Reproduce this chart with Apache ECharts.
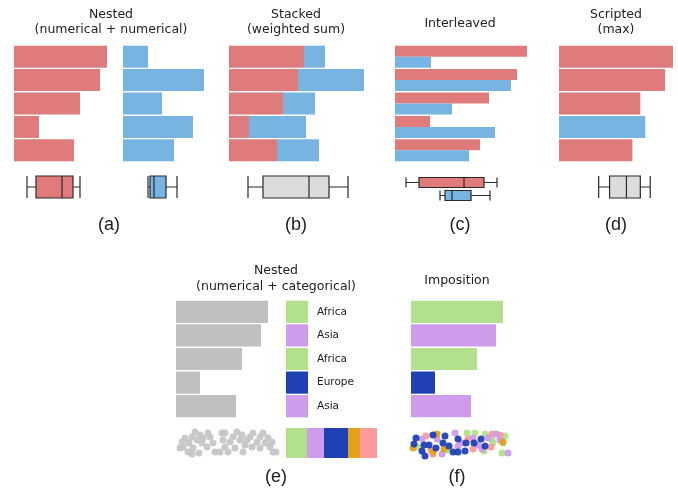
<!DOCTYPE html>
<html>
<head>
<meta charset="utf-8">
<script src="https://cdn.jsdelivr.net/npm/echarts@6/dist/echarts.min.js"></script>
<style>
  html, body { margin: 0; padding: 0; background: #fff; }
  #chart { width: 678px; height: 493px; }
</style>
</head>
<body>
<div id="chart"></div>
<script>
// data (lengths in arbitrary units)
const rows = ['r1', 'r2', 'r3', 'r4', 'r5'];
const nestedRed = [93, 86, 66, 25, 60];
const nestedBlue = [25, 81, 39, 70, 51];
const stackRed = [75, 69, 54, 20, 48];
const stackBlue = [21, 66, 32, 57, 42];
const interRed = [132, 122, 94, 35, 85];
const interBlue = [36, 116, 57, 100, 74];
const maxVals = [115, 107, 82, 87, 74];
const maxFrom = ['red', 'red', 'red', 'blue', 'red'];
const catVals = [92, 85, 66, 24, 60];
const rowRegion = ['Africa', 'Asia', 'Africa', 'Europe', 'Asia'];
const regionNames = ['Africa', 'Asia', 'Europe', 'Americas', 'Oceania'];
const regionShare = [21, 17, 24, 12, 17];

// boxplots: [min, Q1, median, Q3, max]
const boxNestedRed = [13, 22, 48, 59, 66];
const boxNestedBlue = [25, 27, 31, 43, 54];
const boxStacked = [19, 34, 80, 100, 119];
const boxInterRed = [11, 24, 69, 89, 102];
const boxInterBlue = [45, 50, 57, 76, 95];
const boxMax = [40, 51, 68, 82, 92];

// dot clouds [x, y]
const grayDots = [[6,14],[9,10],[7,19],[13,15],[16,9],[17,20],[21,12],[24,7],[26,15],[27,10],
  [31,19],[23,25],[16,26],[34,9],[37,15],[39,24],[46,5],[47,12],[49,19],[54,14],[57,9],[61,4],
  [59,20],[64,12],[66,7],[69,17],[67,24],[74,9],[76,19],[81,14],[84,9],[87,5],[89,15],[92,10],
  [94,19],[97,24],[100,24],[96,14],[77,5],[52,24],[44,24],[32,5],[4,20],[12,24],[19,4],[71,12],
  [49,5],[84,20]];
const dotsAfrica = [[7,19],[21,22],[36,22],[56,5],[64,5],[74,6],[81,12],[91,25],[94,8],[92,15],[82,15],[73,23]];
const dotsAsia = [[11,11],[26,11],[44,5],[51,15],[62,10],[67,17],[71,21],[77,10],[85,6],[89,12],[97,25],[31,26],[47,18]];
const dotsEurope = [[5,10],[22,7],[34,8],[47,11],[13,17],[18,17],[11,23],[14,28],[25,20],[32,15],[38,18],
  [42,24],[47,24],[55,15],[54,23],[63,15],[70,11],[74,18],[3,16]];
const dotsAmericas = [[2,20],[26,6],[33,21],[92,14],[22,24]];
const dotsOceania = [[15,8],[20,22],[22,26],[57,11],[81,6],[89,7],[80,19],[62,21]];

const RED = '#e07b7b';
const BLUE = '#77b4e1';
const GRAY = '#c0c0c0';
const regionColor = {
  Africa: '#b3e08c', Asia: '#cf9beb', Europe: '#2140b4', Americas: '#e3a11c', Oceania: '#fd9a9a'
};

const grids = [], xAxes = [], yAxes = [], series = [];

function addGrid(left, top, width, height, xMax, yAxis) {
  grids.push({left: left, top: top, width: width, height: height});
  const i = grids.length - 1;
  xAxes.push({type: 'value', gridIndex: i, min: 0, max: xMax, show: false});
  yAxes.push(Object.assign({gridIndex: i, show: false}, yAxis));
  return i;
}
const catAxis = cats => ({type: 'category', data: cats, inverse: true});
const dotAxis = {type: 'value', min: 0, max: 30, inverse: true};

function bars(i, data, color, extra) {
  return Object.assign({
    type: 'bar', xAxisIndex: i, yAxisIndex: i, data: data,
    itemStyle: {color: color}, barCategoryGap: '6%', silent: true
  }, extra || {});
}
function box(i, data, color, w) {
  return {
    type: 'boxplot', xAxisIndex: i, yAxisIndex: i, data: data, silent: true,
    boxWidth: [w, w],
    itemStyle: {color: color, borderColor: '#2a2a2a', borderWidth: 1.2}
  };
}
function dots(i, data, color) {
  return {
    type: 'scatter', xAxisIndex: i, yAxisIndex: i, data: data, silent: true,
    symbolSize: 7, itemStyle: {color: color, opacity: 0.95}
  };
}

// top row: bars
let g = addGrid(14, 45, 100, 117, 100, catAxis(rows));
series.push(bars(g, nestedRed, RED));
g = addGrid(123, 45, 100, 117, 100, catAxis(rows));
series.push(bars(g, nestedBlue, BLUE));
g = addGrid(229, 45, 140, 117, 140, catAxis(rows));
series.push(bars(g, stackRed, RED, {stack: 'ws'}));
series.push(bars(g, stackBlue, BLUE, {stack: 'ws'}));
g = addGrid(395, 45, 140, 117, 140, catAxis(rows));
series.push(bars(g, interRed, RED, {barGap: '0%'}));
series.push(bars(g, interBlue, BLUE, {barGap: '0%'}));
g = addGrid(559, 45, 120, 117, 120, catAxis(rows));
series.push(bars(g, maxVals.map((v, k) => ({value: v, itemStyle: {color: maxFrom[k] === 'red' ? RED : BLUE}})), RED));

// top row: boxplots
g = addGrid(14, 176, 100, 22, 100, catAxis(['a']));
series.push(box(g, [boxNestedRed], RED, 22));
g = addGrid(123, 176, 100, 22, 100, catAxis(['a']));
series.push(box(g, [boxNestedBlue], BLUE, 22));
g = addGrid(229, 176, 140, 22, 140, catAxis(['a']));
series.push(box(g, [boxStacked], '#dcdcdc', 22));
g = addGrid(395, 176, 140, 26, 140, catAxis(['r', 'b']));
series.push(box(g, [
  {value: boxInterRed, itemStyle: {color: RED}},
  {value: boxInterBlue, itemStyle: {color: BLUE}}
], RED, 10));
g = addGrid(559, 176, 120, 22, 120, catAxis(['a']));
series.push(box(g, [boxMax], '#dcdcdc', 22));

// bottom row
g = addGrid(176, 300, 100, 118, 100, catAxis(rows));
series.push(bars(g, catVals, GRAY));
g = addGrid(286, 300, 22, 118, 1, catAxis(rows));
series.push(bars(g, rowRegion.map(r => ({value: 1, itemStyle: {color: regionColor[r]}})), GRAY, {
  label: {
    show: true, position: 'right', distance: 9, color: '#222',
    fontFamily: 'DejaVu Sans', fontSize: 10.5,
    formatter: p => rowRegion[p.dataIndex]
  }
}));
g = addGrid(411, 300, 100, 118, 100, catAxis(rows));
series.push(bars(g, catVals.map((v, k) => ({value: v, itemStyle: {color: regionColor[rowRegion[k]]}})), GRAY));

g = addGrid(286, 428, 91, 30, 91, catAxis(['all']));
regionNames.forEach((r, k) => {
  series.push(bars(g, [regionShare[k]], regionColor[r], {stack: 'share', barWidth: '100%'}));
});

g = addGrid(176, 428, 100, 30, 100, dotAxis);
series.push(dots(g, grayDots, '#c6c6c6'));
g = addGrid(411, 428, 100, 30, 100, dotAxis);
series.push(dots(g, dotsAfrica, regionColor.Africa));
series.push(dots(g, dotsOceania, regionColor.Oceania));
series.push(dots(g, dotsAsia, regionColor.Asia));
series.push(dots(g, dotsAmericas, regionColor.Americas));
series.push(dots(g, dotsEurope, regionColor.Europe));

// titles and panel letters
const titleFont = '12.5px "DejaVu Sans"';
const letterFont = '18px "Liberation Sans"';
const texts = [
  ['Nested', 111, 15, titleFont], ['(numerical + numerical)', 111, 30, titleFont],
  ['Stacked', 296, 15, titleFont], ['(weighted sum)', 296, 30, titleFont],
  ['Interleaved', 460, 24, titleFont],
  ['Scripted', 616, 15, titleFont], ['(max)', 616, 30, titleFont],
  ['Nested', 276, 271, titleFont], ['(numerical + categorical)', 276, 287, titleFont],
  ['Imposition', 457, 281, titleFont],
  ['(a)', 109, 225, letterFont], ['(b)', 296, 225, letterFont],
  ['(c)', 460, 225, letterFont], ['(d)', 616, 225, letterFont],
  ['(e)', 276, 477, letterFont], ['(f)', 457, 477, letterFont]
];

const chart = echarts.init(document.getElementById('chart'));
chart.setOption({
  animation: false,
  backgroundColor: '#fff',
  grid: grids,
  xAxis: xAxes,
  yAxis: yAxes,
  series: series,
  graphic: texts.map(t => ({
    type: 'text', x: t[1], y: t[2], silent: true,
    style: {text: t[0], font: t[3], fill: '#222', textAlign: 'center', textVerticalAlign: 'middle'}
  }))
});
</script>
</body>
</html>
